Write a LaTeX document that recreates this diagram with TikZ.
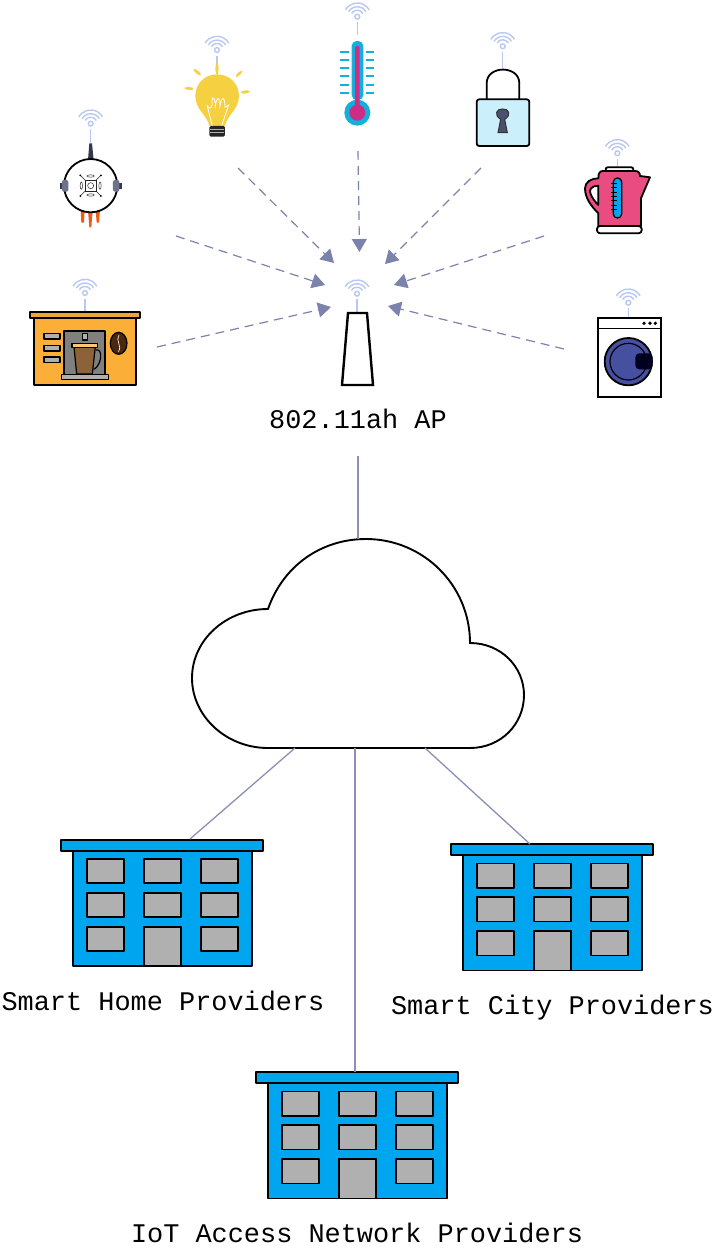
\documentclass[tikz,border=0pt]{standalone}
\usepackage{fontspec}
\setmainfont{Liberation Mono}
\usetikzlibrary{arrows.meta}
\definecolor{wificol}{HTML}{B9C8F2}
\definecolor{arrowcol}{HTML}{7B83AD}
\definecolor{linkcol}{HTML}{8A90B5}
\definecolor{bluecol}{HTML}{00A5F0}
\definecolor{graycol}{HTML}{B0B0B0}
\definecolor{orangecol}{HTML}{FBAE38}
\definecolor{yellowcol}{HTML}{F5D142}
\definecolor{cyancol}{HTML}{12B0DC}
\definecolor{pinkcol}{HTML}{E84C80}
\definecolor{magentacol}{HTML}{CC2E86}
\definecolor{slatecol}{HTML}{4A5070}
\definecolor{drumcol}{HTML}{4650A0}
\definecolor{flamecol}{HTML}{F05A14}
\definecolor{beancol}{HTML}{4A2710}
\definecolor{cupcol}{HTML}{8B6239}
\tikzset{
  outline/.style={draw=black,line width=1.8pt,line join=round},
  thin outline/.style={draw=black!85,line width=0.5pt},
  radio/.style={-{Triangle[length=13pt,width=15pt]},arrowcol,line width=1.2pt,dash pattern=on 9pt off 6pt},
  link/.style={linkcol,line width=1.3pt},
  label/.style={anchor=base,font=\fontsize{26.9}{30}\selectfont,inner sep=0pt},
  zoomed/.style={x=0.3333pt,y=-0.3333pt},
  wifi/.pic={
    \foreach \r in {6.5,10,13.7}
      \draw[wificol,line width=1.4pt] ({-\r*cos(30)},{-\r*sin(30)}) arc[start angle=150,end angle=30,radius=\r pt];
    \draw[wificol,line width=1.4pt] (0,0) circle[radius=2.4];
    \draw[wificol,line width=1.4pt] (0,5.5) -- (0,#1);
  },
  building/.pic={
    \draw[outline,fill=bluecol] (-89,11) rectangle (89.5,126.3);
    \draw[outline,fill=bluecol] (-101,0) rectangle (101,11);
    \foreach \x in {-75.5,-18.2,38.5}
      \foreach \y in {19.3,53,87}
        \draw[outline,fill=graycol] (\x,\y) rectangle ++(37,24.3);
    \draw[outline,fill=graycol] (-18.2,87) rectangle (18.5,126.3);
    \coordinate (-top) at (0,0);
  },
}
\begin{document}
\begin{tikzpicture}[x=1pt,y=-1pt]
  \useasboundingbox (0,0) rectangle (715,1250);

  % wifi marks
  \pic at (90.7,123.7) {wifi=19};
  \pic at (85,293) {wifi=19};
  \pic at (217,50) {wifi=24};
  \pic at (357.3,16.7) {wifi=18};
  \pic at (502.7,46.3) {wifi=22};
  \pic at (617.3,153.3) {wifi=14};
  \pic at (628.3,302.7) {wifi=15};
  \pic at (357,293.7) {wifi=19};

  % access point
  \draw[black,line width=2.4pt,fill=white,line join=miter] (348,313) -- (367,313) -- (373,385) -- (342,385) -- cycle;
  \node[label] (aplabel) at (358,428) {802.11ah AP};

  % sensor
  \begin{scope}[shift={(0,90)},zoomed]
    \fill[flamecol] (242,360) -- (254,360) -- (252,398) -- (244,398) -- cycle;
    \fill[flamecol] (264,360) -- (278,360) -- (274,412) -- (268,412) -- cycle;
    \fill[flamecol] (287,360) -- (300,360) -- (297,398) -- (290,398) -- cycle;
    \fill[slatecol!70!black] (264,210) -- (268,160) -- (276,160) -- (281,210) -- cycle;
    \draw[outline,fill=white] (272,287) circle[radius=80];
    \fill[slatecol!70!black] (179,280) rectangle (190,296);
    \fill[slatecol!70!black] (354,280) rectangle (366,296);
    \fill[slatecol!80!white,rounded corners=2pt] (186,270) rectangle (205,305);
    \fill[slatecol!80!white,rounded corners=2pt] (339,270) rectangle (358,305);
    \draw[thin outline] (256,272) rectangle (288,303);
    \draw[thin outline] (272,287) circle[radius=9];
    \foreach \dx/\dy in {-1/-1,1/-1,-1/1,1/1} {
      \draw[thin outline] ({272+16*\dx},{287+16*\dy}) -- ({272+31*\dx},{287+31*\dy});
      \fill[black] ({272+31*\dx},{287+31*\dy}) circle[radius=3];
    }
    \draw[thin outline] (272,258) ellipse[x radius=11,y radius=3.5];
    \draw[thin outline] (272,315) ellipse[x radius=11,y radius=3.5];
    \draw[thin outline] (244,287) ellipse[x radius=3.5,y radius=11];
    \draw[thin outline] (300,287) ellipse[x radius=3.5,y radius=11];
  \end{scope}

  % coffee machine
  \begin{scope}[shift={(0,90)},zoomed]
    \draw[outline,fill=orangecol] (103,683) rectangle (408,885);
    \draw[outline,fill=orangecol!95!black] (89,666) rectangle (421,683);
    \foreach \y in {731,767,801}
      \draw[outline,line width=1.2pt,fill=graycol] (132,\y) rectangle (180,\y+16);
    \draw[outline,fill=black!50] (192,722) rectangle (316,855);
    \draw[outline,line width=1.2pt,fill=graycol] (247,731) rectangle (262,750);
    \draw[outline,line width=1.2pt] (288,780) .. controls (310,775) and (305,825) .. (282,838);
    \draw[outline,line width=1.2pt,fill=cupcol] (222,770) -- (286,770) -- (277,852) -- (230,852) -- cycle;
    \draw[outline,line width=1.2pt,fill=orangecol!70!white] (216,761) rectangle (292,772);
    \draw[outline,line width=1.2pt,fill=graycol] (184,853) rectangle (326,869);
    \draw[outline,line width=1.2pt,fill=beancol] (356,760) ellipse[x radius=25,y radius=33];
    \draw[white!80!brown,line width=0.7pt] (357,735) .. controls (345,752) and (368,768) .. (355,785);
  \end{scope}

  % bulb and thermometer
  \begin{scope}[shift={(170,0)},zoomed]
    \fill[yellowcol] (118,378) .. controls (112,345) and (76,330) .. (76,288) .. controls (76,250) and (105,223) .. (141,223) .. controls (177,223) and (207,250) .. (207,288) .. controls (207,330) and (170,345) .. (165,378) -- cycle;
    \draw[white,line width=0.8pt] (127,378) -- (112,318) .. controls (120,330) and (128,325) .. (126,300) .. controls (127,288) and (136,292) .. (136,318) .. controls (140,288) and (150,288) .. (150,318) .. controls (155,288) and (165,288) .. (165,322) -- (176,315) -- (155,378);
    \fill[black!85,rounded corners=1.5pt] (118,378) rectangle (165,410);
    \draw[white!70!black,line width=0.5pt] (120,388) -- (163,388) (120,398) -- (163,398);
    \fill[yellowcol] (141,183) .. controls (149,200) and (146,222) .. (141,222) .. controls (136,222) and (133,200) .. (141,183) -- cycle;
    \fill[yellowcol] (70,206) .. controls (85,210) and (96,222) .. (92,226) .. controls (88,228) and (72,218) .. (70,206) -- cycle;
    \fill[yellowcol] (218,211) .. controls (216,222) and (202,232) .. (198,231) .. controls (195,226) and (206,214) .. (218,211) -- cycle;
    \fill[yellowcol] (42,264) .. controls (52,258) and (70,262) .. (70,266) .. controls (70,272) and (52,272) .. (42,264) -- cycle;
    \fill[yellowcol] (241,274) .. controls (232,268) and (213,272) .. (213,277) .. controls (214,283) and (232,282) .. (241,274) -- cycle;
    % thermometer
    \fill[cyancol,rounded corners=5pt] (545,123) rectangle (580,300);
    \fill[cyancol] (562,338) circle[radius=39];
    \fill[magentacol,rounded corners=2pt] (555,138) rectangle (569,330);
    \fill[magentacol] (562,338) circle[radius=24];
    \foreach \y in {155,180,205,229,254,279} {
      \fill[cyancol] (510,\y-3) rectangle (537,\y+3);
      \fill[cyancol] (588,\y-3) rectangle (612,\y+3);
    }
  \end{scope}

  % lock and kettle
  \begin{scope}[shift={(460,20)},zoomed]
    \draw[outline] (80,238) -- (80,190) .. controls (80,135) and (178,135) .. (178,190) -- (178,238);
    \draw[outline,fill=cyan!20!white,rounded corners=2.5pt] (50,238) rectangle (208,378);
    \draw[black!80,line width=1pt,fill=slatecol] (122,298) .. controls (100,285) and (110,265) .. (128,267) .. controls (146,265) and (156,285) .. (134,298) -- (142,338) -- (114,338) -- cycle;
    % kettle
    \draw[outline,fill=white,rounded corners=2pt] (437,442) rectangle (520,458);
    \draw[outline,fill=pinkcol] (415,475) .. controls (415,458) and (420,453) .. (430,453) -- (525,453) .. controls (535,453) and (540,458) .. (540,468) -- (570,472) -- (543,535) -- (543,618) -- (415,618) -- (415,580) .. controls (395,560) and (375,535) .. (375,505) .. controls (375,485) and (395,475) .. (415,475) -- cycle;
    \draw[outline,fill=white] (415,497) .. controls (395,497) and (385,510) .. (392,522) .. controls (397,535) and (405,545) .. (415,555) -- cycle;
    \draw[outline,fill=white,rounded corners=3pt] (411,618) rectangle (545,640);
    \draw[outline,line width=1.2pt,fill=bluecol,rounded corners=4pt] (460,474) rectangle (485,594);
    \foreach \y in {490,503,516,529,542,555,568}
      \draw[black,line width=0.6pt] (453,\y) -- (470,\y);
  \end{scope}

  % washer
  \begin{scope}[shift={(570,280)},zoomed]
    \draw[outline,fill=white,line join=miter] (85,113) rectangle (272,350);
    \draw[black,line width=1.2pt] (85,145) -- (272,145);
    \foreach \x in {222,240,256}
      \fill[black] (\x,130) circle[radius=5.5];
    \draw[outline,fill=drumcol] (175,245) circle[radius=71];
    \draw[black,line width=1.2pt] (175,245) circle[radius=55];
    \fill[black!60!blue!30!black,rounded corners=4pt] (196,220) rectangle (248,268);
  \end{scope}

  % radio links
  \coordinate (sensortx) at (176,236);
  \coordinate (coffeetx) at (157,347);
  \coordinate (bulbtx) at (238,168);
  \coordinate (thermotx) at (358,151);
  \coordinate (locktx) at (481,168);
  \coordinate (kettletx) at (544,236);
  \coordinate (washertx) at (564,349);
  \coordinate (sensorrx) at (325,285);
  \coordinate (coffeerx) at (331,307);
  \coordinate (bulbrx) at (334,263);
  \coordinate (thermorx) at (359.5,252);
  \coordinate (lockrx) at (385,264);
  \coordinate (kettlerx) at (394,285);
  \coordinate (washerrx) at (388,306);
  \foreach \dev in {sensor,coffee,bulb,thermo,lock,kettle,washer}
    \draw[radio] (\dev tx) -- (\dev rx);

  % cloud
  \coordinate (cloudtop) at (358,539);
  \coordinate (cloudl) at (295,748);
  \coordinate (cloudm) at (355,748);
  \coordinate (cloudr) at (425,748);
  \draw[black,line width=1.9pt,fill=white]
    (268,609) .. controls (283,566) and (321,539) .. (366,539)
    .. controls (423,539) and (470,585) .. (470,643)
    .. controls (501,643) and (524,667) .. (524,695)
    .. controls (524,724) and (501,748) .. (470,748)
    -- (268,748)
    .. controls (226,748) and (192,716) .. (192,678)
    .. controls (192,640) and (226,609) .. (268,609) -- cycle;

  % buildings
  \pic (home) at (162.2,839.7) {building};
  \pic (city) at (552.2,844.2) {building};
  \pic (iot) at (357.2,1072.2) {building};
  \node[label] (homelabel) at (163,1010) {Smart Home Providers};
  \node[label] (citylabel) at (552.5,1014) {Smart City Providers};
  \node[label] (iotlabel) at (357,1242) {IoT Access Network Providers};

  % wired links
  \coordinate (aptail) at (358,456);
  \coordinate (homeroof) at (190,839);
  \coordinate (cityroof) at (530,844);
  \coordinate (iotroof) at (355,1072);
  \draw[link] (aptail) -- (cloudtop);
  \draw[link] (cloudl) -- (homeroof);
  \draw[link] (cloudm) -- (iotroof);
  \draw[link] (cloudr) -- (cityroof);
\end{tikzpicture}
\end{document}
